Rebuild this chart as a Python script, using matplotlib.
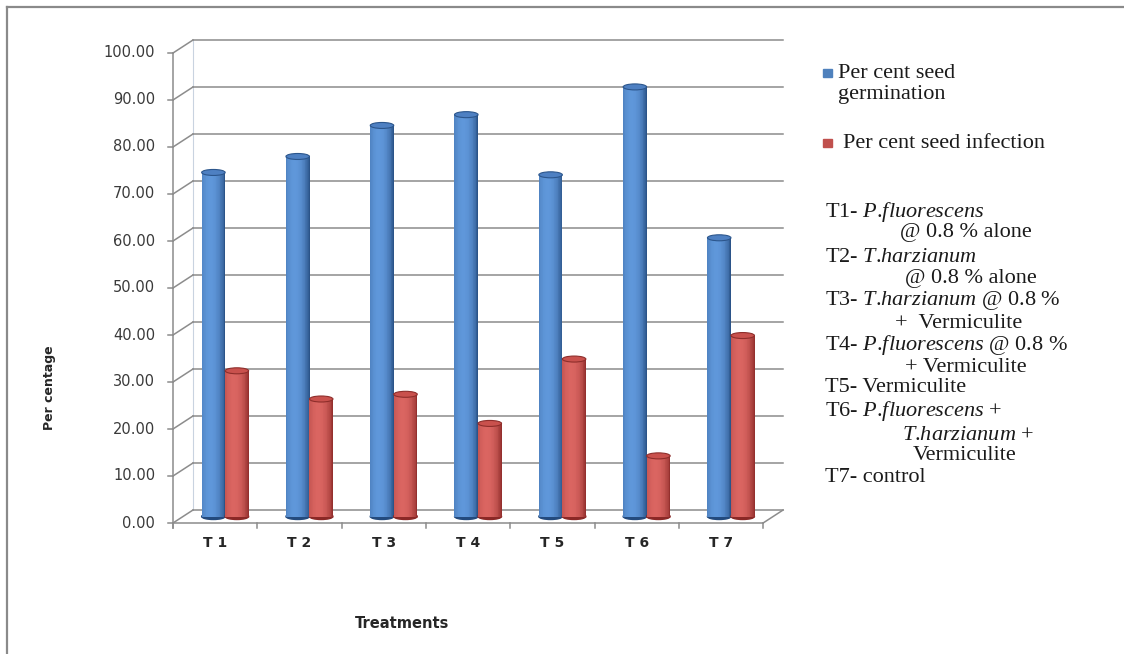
import numpy as np
import matplotlib
matplotlib.use("Agg")
import matplotlib.pyplot as plt
from matplotlib.patches import Ellipse, Rectangle
from matplotlib.lines import Line2D
from matplotlib.colors import to_rgb

plt.rcParams['mathtext.fontset'] = 'custom'
plt.rcParams['mathtext.rm'] = 'Liberation Serif'
plt.rcParams['mathtext.it'] = 'Liberation Serif:italic'

# data
treatments = ['T 1', 'T 2', 'T 3', 'T 4', 'T 5', 'T 6', 'T 7']
germination = [73.2, 76.6, 83.2, 85.5, 72.7, 91.4, 59.3]
infection = [31.0, 25.0, 26.0, 19.8, 33.5, 12.9, 38.5]
y_ticks = [0, 10, 20, 30, 40, 50, 60, 70, 80, 90, 100]
series_names = [['Per cent seed', 'germination'], ['Per cent seed infection']]
PF = r'$\mathit{P}$.$\mathit{fluorescens}$'
TH = r'$\mathit{T}$.$\mathit{harzianum}$'
key_lines = [
    'T1- ' + PF,
    '@ 0.8 % alone',
    'T2- ' + TH,
    '@ 0.8 % alone',
    'T3- ' + TH + ' @ 0.8 %',
    '+  Vermiculite',
    'T4- ' + PF + ' @ 0.8 %',
    '+ Vermiculite',
    'T5- Vermiculite',
    'T6- ' + PF + ' +',
    TH + ' +',
    'Vermiculite',
    'T7- control',
]
key_indent = [825, 900, 825, 905, 825, 895, 825, 905, 825, 825, 902, 913, 825]

W, H = 1124, 654
fig = plt.figure(figsize=(W / 100, H / 100), dpi=100)
fig.patch.set_facecolor('white')

# frame geometry in pixels
PX_CAT = 84.3    # px per category
PX_UNIT = 4.7    # px per percent
X0, Y0 = 173, 523
ax = fig.add_axes([X0 / W, 1 - Y0 / H, 610 / W, 483 / H])
ax.set_xlim(0, 610 / PX_CAT)
ax.set_ylim(0, 483 / PX_UNIT)
ax.axis('off')

n = len(treatments)
dx, dy = 20 / PX_CAT, 13 / PX_UNIT
grid = '#8c8c8c'
lw = 1.1

# back wall grid + diagonals from the front axis
for v in y_ticks:
    ax.plot([0, dx], [v, v + dy], color=grid, lw=lw, zorder=1, clip_on=False)
    ax.plot([dx, n + dx], [v + dy, v + dy], color=grid, lw=lw, zorder=1, clip_on=False)
    ax.plot([-0.06, 0], [v, v], color=grid, lw=lw, zorder=1, clip_on=False)
    ax.text(-0.21, v, f'{v:.2f}', ha='right', va='center', fontsize=10.5,
            color='#3a3a3a')
ax.plot([dx, dx], [dy, 100 + dy], color='#c9d3e0', lw=0.8, zorder=0.5)

# front axis and floor
ax.plot([0, 0], [-1.1, 100], color=grid, lw=lw, zorder=1, clip_on=False)
ax.plot([0, n], [0, 0], color=grid, lw=lw, zorder=1, clip_on=False)
ax.plot([n, n + dx], [0, dy], color=grid, lw=lw, zorder=1, clip_on=False)
for i in range(n + 1):
    ax.plot([i, i], [0, -1.1], color=grid, lw=lw, zorder=1, clip_on=False)
for i, lab in enumerate(treatments):
    ax.text(i + 0.5, -20 / PX_UNIT, lab, ha='center', va='center',
            fontsize=10, fontweight='bold', color='#262626')


def cylinder(xc, base, h, w, dark, light, cap, edge, z):
    k = 30
    t = (np.arange(k) + 0.5) / k * 2 - 1
    s = np.clip(1 - ((t + 0.25) / 1.25) ** 2, 0, 1) ** 0.7
    d, l = np.array(to_rgb(dark)), np.array(to_rgb(light))
    cols = d + (l - d) * s[:, None]
    eh = 6 / PX_UNIT
    ax.add_patch(Ellipse((xc, base), w, eh, color=dark, zorder=z))
    ax.bar(xc + t * w / 2, h, width=w / k * 1.15, bottom=base, color=cols,
           linewidth=0, zorder=z + 0.1)
    ax.add_patch(Ellipse((xc, base + h), w, eh, facecolor=cap, edgecolor=edge,
                         lw=0.8, zorder=z + 0.2))


bw = 23.5 / PX_CAT
base = dy / 2
for i in range(n):
    xc = i + 0.5 + dx / 2
    cylinder(xc - bw / 2, base, germination[i], bw, '#234a7d', '#5f97da',
             '#4e80c2', '#2c568c', 3 + i)
    cylinder(xc + bw / 2, base, infection[i], bw, '#8a2826', '#da6561',
             '#c9514d', '#8e2e2b', 3.5 + i)

# axis titles
fig.text(402 / W, 1 - 624 / H, 'Treatments', ha='center', va='center',
         fontsize=10.5, fontweight='bold', color='#262626')
fig.text(50 / W, 1 - 388 / H, 'Per centage', ha='center', va='center',
         rotation=90, fontsize=9, fontweight='bold', color='#262626')

# legend
serif = 'Liberation Serif'
for (col, ys, xt), names in zip([('#4f81bd', 73, 838), ('#c0504d', 143, 843)],
                                series_names):
    fig.add_artist(Rectangle((823 / W, 1 - (ys + 4) / H), 9 / W, 8 / H,
                             transform=fig.transFigure, color=col))
    for j, s in enumerate(names):
        fig.text(xt / W, 1 - (ys + 22 * j) / H, s, ha='left', va='center',
                 fontsize=16, family=serif, color='#1a1a1a')

# treatment key
key_y = [212, 233, 257, 278, 300, 323, 345, 367, 388, 411, 435, 456, 477]
for s, xk, yk in zip(key_lines, key_indent, key_y):
    fig.text(xk / W, 1 - yk / H, s, ha='left', va='center', fontsize=16,
             family=serif, color='#1a1a1a')

# outer frame (left and top edges)
fig.add_artist(Line2D([7 / W, 7 / W], [0, 1 - 7 / H], transform=fig.transFigure,
                      color='#8a8a8a', lw=1.6))
fig.add_artist(Line2D([7 / W, 1], [1 - 7 / H, 1 - 7 / H], transform=fig.transFigure,
                      color='#8a8a8a', lw=1.6))

fig.savefig('out.png', dpi=100)
